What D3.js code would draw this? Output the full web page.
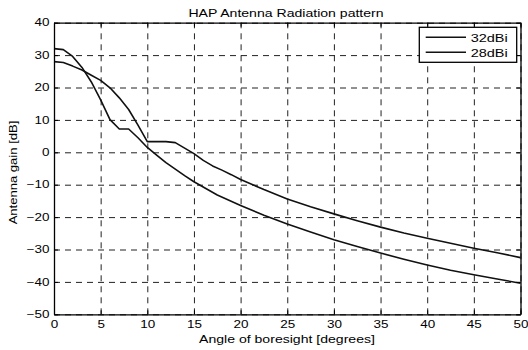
<!DOCTYPE html>
<html>
<head>
<meta charset="utf-8">
<script src="https://cdn.jsdelivr.net/npm/d3@7"></script>
<style>
    body { margin: 0; background: #fff; }
    svg { font-family: "Liberation Sans", Arial, sans-serif; }
</style>
</head>
<body>
<div id="chart-area"></div>
<script>
// values
var seriesNames = ["32dBi", "28dBi"];
var angle32 = [0, 1, 2, 3, 4, 5, 6, 7, 8, 9, 10, 11, 12, 13, 14, 15, 17.5, 20, 22.5, 25, 27.5, 30, 32.5, 35, 37.5, 40, 42.5, 45, 47.5, 50];
var gain32 = [32, 31.7, 29.6, 26.2, 21.7, 16.2, 10.1, 7.2, 7.2, 4.5, 1.5, -0.9, -3.2, -5.2, -7.2, -9.1, -13.2, -16.4, -19.4, -22.1, -24.6, -27, -29.1, -31.1, -33, -34.8, -36.4, -37.8, -39.1, -40.4];
var angle28 = [0, 1, 2, 3, 4, 5, 6, 7, 8, 9, 10, 11, 12, 13, 14, 15, 16, 17, 18, 19, 20, 22.5, 25, 27.5, 30, 32.5, 35, 37.5, 40, 42.5, 45, 47.5, 50];
var gain28 = [28, 27.7, 26.6, 25.4, 23.8, 22.2, 19.9, 16.8, 13.2, 8.4, 3.3, 3.3, 3.3, 3.0, 1.3, -0.4, -2.5, -4.2, -5.5, -6.9, -8.4, -11.5, -14.4, -16.8, -19, -21.1, -23.1, -24.9, -26.5, -28.1, -29.6, -31, -32.5];
var xTicks = [0, 5, 10, 15, 20, 25, 30, 35, 40, 45, 50];
var yTicks = [-50, -40, -30, -20, -10, 0, 10, 20, 30, 40];

var margin = { top: 22.7, right: 7.5, bottom: 35.7, left: 54 };
var width = 528 - margin.left - margin.right;
var height = 350 - margin.top - margin.bottom;
var sx = 1.32; // text in the picture is stretched sideways

var svg = d3.select("#chart-area")
    .append("svg")
    .attr("width", 528)
    .attr("height", 350)
    .style("background-color", "#fff");

var g = svg.append("g")
    .attr("transform", `translate(${margin.left}, ${margin.top})`);

var x = d3.scaleLinear().domain([0, 50]).range([0, width]);
var y = d3.scaleLinear().domain([-50, 40]).range([height, 0]);

// dashed grid
g.append("g")
    .attr("class", "grid")
    .call(d3.axisLeft(y).tickValues(yTicks).tickSize(-width).tickFormat(""))
    .call(s => s.select(".domain").remove())
    .selectAll("line")
    .attr("stroke", "#222")
    .attr("stroke-dasharray", "6,5");

g.append("g")
    .attr("class", "grid")
    .attr("transform", `translate(0, ${height})`)
    .call(d3.axisBottom(x).tickValues(xTicks).tickSize(-height).tickFormat(""))
    .call(s => s.select(".domain").remove())
    .selectAll("line")
    .attr("stroke", "#222")
    .attr("stroke-dasharray", "6,5");

// curves
var line = d3.line()
    .x(d => x(d[0]))
    .y(d => y(d[1]));

var curves = [
    d3.zip(angle32, gain32),
    d3.zip(angle28, gain28)
];

g.selectAll(".curve")
    .data(curves)
    .enter()
    .append("path")
    .attr("class", "curve")
    .attr("d", line)
    .attr("fill", "none")
    .attr("stroke", "#111")
    .attr("stroke-width", 1.6)
    .attr("stroke-linejoin", "round");

// axes with inward ticks on all four sides
function styleAxis(s) {
    s.select(".domain").attr("stroke", "#000").attr("stroke-width", 1.3);
    s.selectAll(".tick line").attr("stroke", "#000");
}

g.append("g")
    .attr("transform", `translate(0, ${height})`)
    .call(d3.axisBottom(x).tickValues(xTicks).tickSizeInner(-4).tickSizeOuter(0).tickPadding(6.5))
    .call(styleAxis)
    .selectAll("text")
    .attr("font-size", "10.2px")
    .attr("fill", "#000")
    .attr("transform", `scale(${sx},1)`);

g.append("g")
    .call(d3.axisLeft(y).tickValues(yTicks).tickSizeInner(-4).tickSizeOuter(0).tickPadding(0))
    .call(styleAxis)
    .selectAll("text")
    .attr("font-size", "10.2px")
    .attr("fill", "#000")
    .attr("x", -4.5 / sx)
    .attr("transform", `scale(${sx},1)`);

g.append("g")
    .call(d3.axisTop(x).tickValues(xTicks).tickSizeInner(-4).tickSizeOuter(0).tickFormat(""))
    .call(styleAxis);

g.append("g")
    .attr("transform", `translate(${width}, 0)`)
    .call(d3.axisRight(y).tickValues(yTicks).tickSizeInner(-4).tickSizeOuter(0).tickFormat(""))
    .call(styleAxis);

// title and labels
svg.append("text")
    .attr("transform", `translate(286, 16.5) scale(1.38,1)`)
    .attr("text-anchor", "middle")
    .attr("font-size", "10.2px")
    .attr("fill", "#000")
    .text("HAP Antenna Radiation pattern");

svg.append("text")
    .attr("transform", `translate(287, 343) scale(1.38,1)`)
    .attr("text-anchor", "middle")
    .attr("font-size", "10.2px")
    .attr("fill", "#000")
    .text("Angle of boresight [degrees]");

svg.append("text")
    .attr("transform", `translate(17.3, 172.5) rotate(-90) scale(1.28,1)`)
    .attr("text-anchor", "middle")
    .attr("font-size", "10.2px")
    .attr("fill", "#000")
    .text("Antenna gain [dB]");

// legend
var legend = svg.append("g")
    .attr("transform", "translate(419.3, 27.3)");

legend.append("rect")
    .attr("width", 97.4)
    .attr("height", 35)
    .attr("fill", "#fff")
    .attr("stroke", "#000")
    .attr("stroke-width", 1.3);

var items = legend.selectAll(".item")
    .data(seriesNames)
    .enter()
    .append("g")
    .attr("class", "item")
    .attr("transform", (d, i) => `translate(0, ${10 + i * 15})`);

items.append("line")
    .attr("x1", 6.4)
    .attr("x2", 46.7)
    .attr("stroke", "#111")
    .attr("stroke-width", 1.4);

items.append("text")
    .attr("transform", `translate(51.4, 4.4) scale(1.42,1)`)
    .attr("font-size", "10.2px")
    .attr("fill", "#000")
    .text(d => d);
</script>
</body>
</html>
